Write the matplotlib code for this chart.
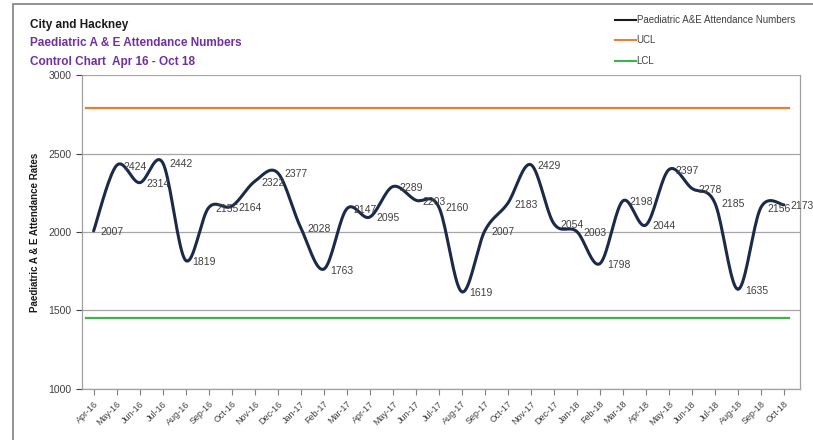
import numpy as np
import matplotlib.pyplot as plt
from matplotlib.patches import Rectangle

months = ['Apr-16', 'May-16', 'Jun-16', 'Jul-16', 'Aug-16', 'Sep-16', 'Oct-16', 'Nov-16',
          'Dec-16', 'Jan-17', 'Feb-17', 'Mar-17', 'Apr-17', 'May-17', 'Jun-17', 'Jul-17',
          'Aug-17', 'Sep-17', 'Oct-17', 'Nov-17', 'Dec-17', 'Jan-18', 'Feb-18', 'Mar-18',
          'Apr-18', 'May-18', 'Jun-18', 'Jul-18', 'Aug-18', 'Sep-18', 'Oct-18']
attendances = [2007, 2424, 2314, 2442, 1819, 2155, 2164, 2322, 2377, 2028, 1763, 2147,
               2095, 2289, 2203, 2160, 1619, 2007, 2183, 2429, 2054, 2003, 1798, 2198,
               2044, 2397, 2278, 2185, 1635, 2156, 2173]
ucl = 2790
lcl = 1452


def smooth(x, y, n=20):
    # excel-like smoothed line: cubic bezier with catmull-rom tangents
    x = np.asarray(x, float)
    y = np.asarray(y, float)
    px = np.concatenate([[x[0]], x, [x[-1]]])
    py = np.concatenate([[y[0]], y, [y[-1]]])
    xs, ys = [], []
    t = np.linspace(0, 1, n)
    for i in range(len(x) - 1):
        p0 = np.array([px[i + 1], py[i + 1]])
        p3 = np.array([px[i + 2], py[i + 2]])
        c1 = p0 + (np.array([px[i + 2], py[i + 2]]) - np.array([px[i], py[i]])) / 6
        c2 = p3 - (np.array([px[i + 3], py[i + 3]]) - np.array([px[i + 1], py[i + 1]])) / 6
        pts = ((1 - t)[:, None] ** 3 * p0 + 3 * ((1 - t) ** 2 * t)[:, None] * c1
               + 3 * ((1 - t) * t ** 2)[:, None] * c2 + (t ** 3)[:, None] * p3)
        xs.extend(pts[:, 0])
        ys.extend(pts[:, 1])
    return xs, ys


plt.rcParams['font.family'] = ['Liberation Sans', 'DejaVu Sans']

fig = plt.figure(figsize=(8.13, 4.40), dpi=100)
ax = fig.add_axes([0.101, 0.116, 0.883, 0.7135])

x = np.arange(len(months))
sx, sy = smooth(x, attendances)
ax.plot(sx, sy, color='#1c2a4a', lw=2.2, zorder=3, solid_capstyle='round')
ax.axhline(ucl, color='#ed7d31', lw=1.6, xmin=0.005, xmax=0.985, zorder=2)
ax.axhline(lcl, color='#3cb44b', lw=1.6, xmin=0.005, xmax=0.985, zorder=2)

for xi, v in zip(x, attendances):
    ax.annotate(str(v), (xi, v), xytext=(5, -1), textcoords='offset points',
                ha='left', va='center', fontsize=7.5, color='#404040', zorder=4)

ax.set_ylim(1000, 3000)
ax.set_xlim(-0.5, 30.7)
ax.set_yticks([1000, 1500, 2000, 2500, 3000])
ax.yaxis.grid(True, color='#a6a6a6', lw=0.9)
ax.set_axisbelow(True)
ax.set_xticks(x)
ax.set_xticklabels(months, rotation=45, ha='right', rotation_mode='anchor', fontsize=6.5,
                   color='#404040')
ax.tick_params(axis='y', labelsize=7.5, colors='#404040', length=4, width=0.8)
ax.tick_params(axis='x', length=4, width=0.8, colors='#808080', labelcolor='#404040')
for s in ax.spines.values():
    s.set_color('#a0a0a0')
    s.set_linewidth(0.9)
ax.spines['top'].set_visible(False)

ax.set_ylabel('Paediatric A & E Attendance Rates', fontsize=7, fontweight='bold',
              color='#1a1a1a', labelpad=6)

fig.text(0.037, 0.937, 'City and Hackney', fontsize=8.5, fontweight='bold', color='#1a1a1a')
fig.text(0.037, 0.895, 'Paediatric A & E Attendance Numbers', fontsize=8.5,
         fontweight='bold', color='#7030a0')
fig.text(0.037, 0.853, 'Control Chart  Apr 16 - Oct 18', fontsize=8.5,
         fontweight='bold', color='#7030a0')

# legend drawn by hand at the top right
leg = [('Paediatric A&E Attendance Numbers', '#1a1a1a'), ('UCL', '#ed7d31'), ('LCL', '#3cb44b')]
for i, (lab, col) in enumerate(leg):
    yy = 0.955 - i * 0.047
    fig.add_artist(plt.Line2D([0.757, 0.782], [yy, yy], color=col, lw=1.5))
    fig.text(0.783, yy, lab, fontsize=7, color='#404040', va='center')

fig.add_artist(Rectangle((0.016, -0.01), 1.0, 1.0, transform=fig.transFigure,
                         fill=False, ec='#808080', lw=1.2))

fig.savefig('out.png', dpi=100)
